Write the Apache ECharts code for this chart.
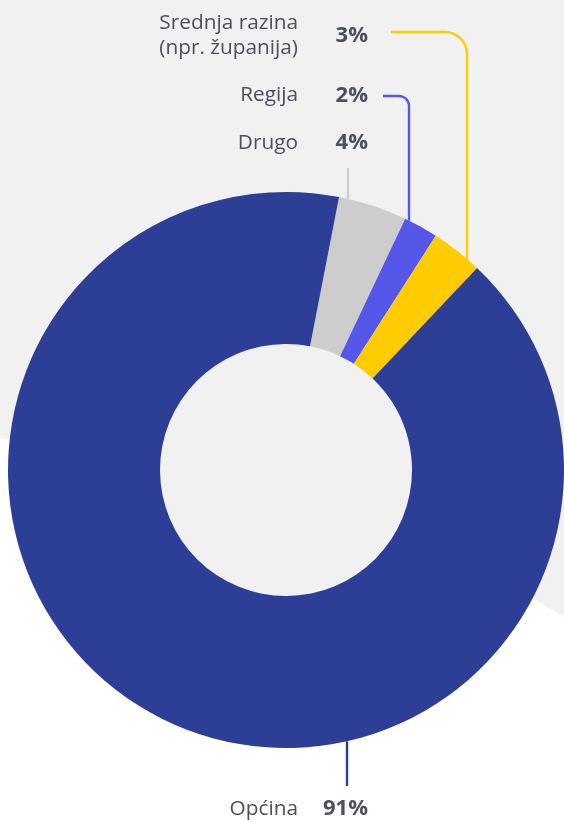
<!DOCTYPE html>
<html><head><meta charset="utf-8">
<script src="https://cdn.jsdelivr.net/npm/echarts@6/dist/echarts.min.js"></script>
<style>html,body{margin:0;padding:0;background:#fff}#c{width:564px;height:822px}</style>
</head><body><div id="c"></div>
<script>
// ---- data ----
const categories = ['Drugo', 'Regija', 'Srednja razina\n(npr. županija)', 'Općina'];
const values = [4, 2, 3, 91];
const colors = ['#cdcdcd', '#5557e8', '#ffcc00', '#2c3e95'];

// ---- layout ----
const CX = 286, CY = 470, R0 = 126, R1 = 278;
const TEXT = '#4b4f5e';
const FONT = '"Open Sans", sans-serif';
const NAME_RIGHT = 298, VALUE_RIGHT = 368;
// leader layout per slice: vertical x, end level, corner radius, horizontal end x, label y
const leaders = [
  { vx: 348, side: -1, endY: 168, r: 0, hx: null, ly: 143 },
  { vx: 409, side: -1, endY: 96, r: 10, hx: 383, ly: 95.5 },
  { vx: 467, side: -1, endY: 32, r: 22, hx: 391, ly: 36 },
  { vx: 347, side: 1, endY: 786, r: 0, hx: null, ly: 809 }
];

function leaderPoints(L) {
  const dx = L.vx - CX;
  const edgeY = CY + L.side * Math.sqrt(R1 * R1 - dx * dx);
  const pts = [[L.vx, edgeY]];
  if (!L.r) { pts.push([L.vx, L.endY]); return pts; }
  const ccx = L.vx - L.r, ccy = L.endY + L.r;
  pts.push([L.vx, ccy]);
  for (let i = 1; i <= 8; i++) {
    const t = (Math.PI / 2) * i / 8;
    pts.push([ccx + L.r * Math.cos(t), ccy - L.r * Math.sin(t)]);
  }
  pts.push([L.hx, L.endY]);
  return pts;
}

const chart = echarts.init(document.getElementById('c'), null, { renderer: 'canvas' });

const nameTexts = categories.map((n, i) => ({
  type: 'text', z: 10,
  style: {
    text: n, x: NAME_RIGHT, y: leaders[i].ly,
    align: 'right', verticalAlign: 'middle',
    font: '20.8px ' + FONT, fill: TEXT, lineHeight: 25
  }
}));

chart.setOption({
  animation: false,
  backgroundColor: '#ffffff',
  graphic: [
    { type: 'polygon', z: -10, shape: { points: [[0, 0], [564, 0], [564, 617], [306, 462], [0, 438]] }, style: { fill: '#f1f1f1' } },
    { type: 'circle', z: -9, shape: { cx: CX, cy: CY, r: R0 + 2 }, style: { fill: '#f1f1f1' } },
    ...nameTexts
  ],
  series: [{
    type: 'pie',
    center: [CX, CY],
    radius: [R0, R1],
    startAngle: 79,
    clockwise: true,
    avoidLabelOverlap: false,
    itemStyle: { borderWidth: 0 },
    data: categories.map((n, i) => ({ name: n, value: values[i], itemStyle: { color: colors[i] } })),
    label: {
      show: true, position: 'outside',
      formatter: p => p.value + '%',
      fontFamily: FONT, fontSize: 22, fontWeight: 'bold', color: TEXT
    },
    labelLine: { show: true, smooth: false, lineStyle: { width: 2.4 } },
    labelLayout: function (p) {
      const L = leaders[p.dataIndex];
      return {
        x: VALUE_RIGHT, y: L.ly, align: 'right', verticalAlign: 'middle',
        labelLinePoints: leaderPoints(L)
      };
    },
    emphasis: { disabled: true }
  }]
});
</script></body></html>
